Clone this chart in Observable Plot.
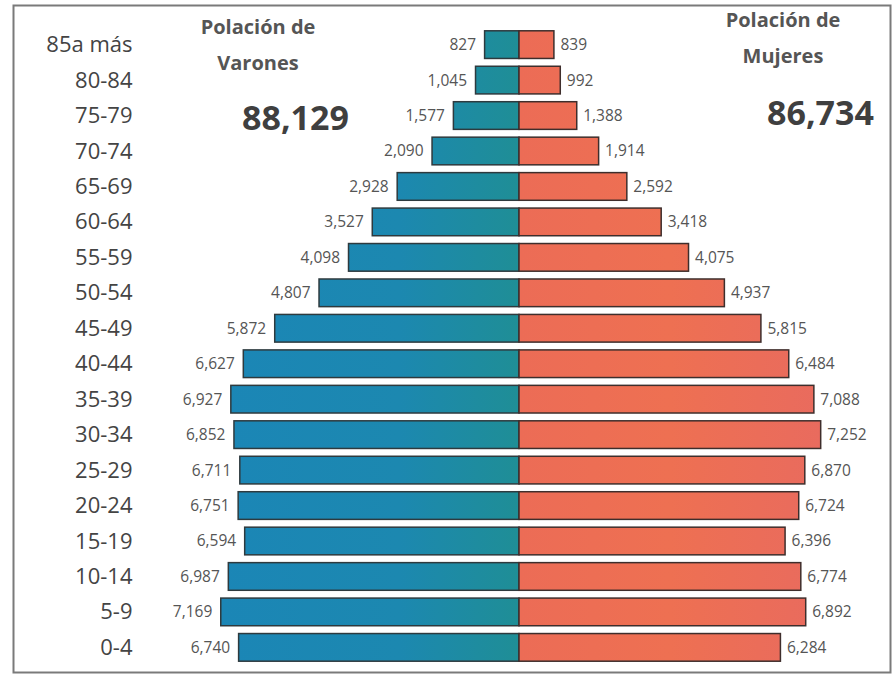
<!DOCTYPE html>
<html>
<head>
<meta charset="utf-8">
<script src="https://cdn.jsdelivr.net/npm/d3@7"></script>
<script src="https://cdn.jsdelivr.net/npm/@observablehq/plot@0.6"></script>
<style>
  html, body { margin: 0; padding: 0; background: #fff; }
  #wrap { position: relative; width: 892px; height: 676px; overflow: hidden; }
  .ttl { position: absolute; font-family: "Open Sans", sans-serif; font-weight: 700; color: #555; font-size: 20px; text-align: center; line-height: 36px; }
  .tot { position: absolute; font-family: "Open Sans", sans-serif; font-weight: 700; color: #3f3f3f; font-size: 34px; }
</style>
</head>
<body>
<div id="wrap"></div>
<script>
const ages = ["85a más","80-84","75-79","70-74","65-69","60-64","55-59","50-54","45-49","40-44","35-39","30-34","25-29","20-24","15-19","10-14","5-9","0-4"];
const men = [827,1045,1577,2090,2928,3527,4098,4807,5872,6627,6927,6852,6711,6751,6594,6987,7169,6740];
const women = [839,992,1388,1914,2592,3418,4075,4937,5815,6484,7088,7252,6870,6724,6396,6774,6892,6284];
const titleMen = ["Polación de", "Varones"];
const titleWomen = ["Polación de", "Mujeres"];
const totalMen = 88129;
const totalWomen = 86734;

const fmt = d3.format(",");
const data = ages.map((a, i) => ({age: a, men: men[i], women: women[i]}));

// gradient definitions (teal tint of the blue bars near the centre line)
function defs() {
  const ns = "http://www.w3.org/2000/svg";
  const d = document.createElementNS(ns, "defs");
  d.innerHTML = `
    <linearGradient id="gBlue" gradientUnits="userSpaceOnUse" x1="220" x2="519" y1="0" y2="0">
      <stop offset="0" stop-color="#1b86b6"/>
      <stop offset="0.6" stop-color="#1c88b0"/>
      <stop offset="1" stop-color="#1f8e96"/>
    </linearGradient>
    <linearGradient id="gRed" gradientUnits="userSpaceOnUse" x1="519" x2="820" y1="0" y2="0">
      <stop offset="0" stop-color="#ec6c56"/>
      <stop offset="0.5" stop-color="#ee7052"/>
      <stop offset="1" stop-color="#e96b5e"/>
    </linearGradient>`;
  return d;
}

const chart = Plot.plot({
  width: 892,
  height: 676,
  marginLeft: 150,
  marginRight: 4,
  marginTop: 23,
  marginBottom: 7,
  style: {fontFamily: "Open Sans, sans-serif", background: "transparent"},
  x: {domain: [-8870, 8870], axis: null},
  y: {domain: ages, padding: 0.22, round: false, axis: null},
  marks: [
    defs,
    Plot.frame({stroke: "#7a7a7a", strokeWidth: 2, insetLeft: -137, insetTop: -18, insetRight: -2, insetBottom: -3}),
    Plot.barX(data, {y: "age", x1: 0, x2: d => -d.men, fill: "url(#gBlue)", stroke: "#2e3a3e", strokeWidth: 1.5}),
    Plot.barX(data, {y: "age", x1: 0, x2: "women", fill: "url(#gRed)", stroke: "#3e2e2c", strokeWidth: 1.5}),
    Plot.text(data, {y: "age", x: d => -d.men, text: d => fmt(d.men), textAnchor: "end", dx: -9, fontSize: 15.5, fill: "#555"}),
    Plot.text(data, {y: "age", x: "women", text: d => fmt(d.women), textAnchor: "start", dx: 6, fontSize: 15.5, fill: "#555"}),
    Plot.axisY({tickSize: 0, tickPadding: 18, fontSize: 22, fill: "#444", label: null, fontWeight: 500})
  ]
});

const wrap = document.getElementById("wrap");
chart.style.position = "absolute";
chart.style.left = "0";
chart.style.top = "0";
wrap.appendChild(chart);

function addTitle(lines, left, top) {
  const d = document.createElement("div");
  d.className = "ttl";
  d.style.left = left + "px";
  d.style.top = top + "px";
  d.style.width = "200px";
  d.innerHTML = lines.join("<br>");
  wrap.appendChild(d);
}
function addTotal(v, left, top) {
  const d = document.createElement("div");
  d.className = "tot";
  d.style.left = left + "px";
  d.style.top = top + "px";
  d.textContent = fmt(v);
  wrap.appendChild(d);
}
addTitle(titleMen, 158, 9);
addTitle(titleWomen, 683, 2);
addTotal(totalMen, 242, 94);
addTotal(totalWomen, 767, 89);
</script>
</body>
</html>
